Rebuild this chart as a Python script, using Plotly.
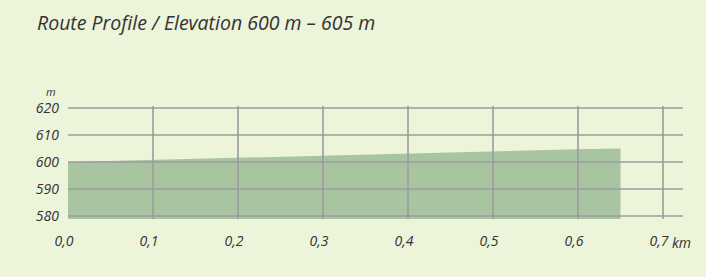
import plotly.graph_objects as go

distance_km = [0.0, 0.1, 0.2, 0.3, 0.4, 0.5, 0.6, 0.65]
elevation_m = [600.0, 600.8, 601.7, 602.4, 603.2, 603.9, 604.7, 605.0]

x_ticks = [0.0, 0.1, 0.2, 0.3, 0.4, 0.5, 0.6, 0.7]
x_tick_labels = ["0,0", "0,1", "0,2", "0,3", "0,4", "0,5", "0,6", "0,7"]
y_ticks = [580, 590, 600, 610, 620]
y_tick_labels = ["580", "590", "600", "610", "620"]

BG = "#ECF4DA"
FILL = "#A8C4A0"
GRID = "#9C9C9C"
TXT = "#333333"
FONT = "Open Sans"

fig = go.Figure()
fig.add_trace(go.Scatter(
    x=distance_km, y=elevation_m, mode="lines",
    line=dict(width=0, color=FILL), fill="tozeroy", fillcolor=FILL,
    hoverinfo="skip", showlegend=False,
))

shapes = []
for xv in x_ticks[1:]:
    shapes.append(dict(type="line", xref="x", yref="paper", x0=xv, x1=xv, y0=0, y1=1,
                       line=dict(color=GRID, width=1.6), layer="above"))
for yv in y_ticks:
    shapes.append(dict(type="line", xref="paper", yref="y", x0=0, x1=1, y0=yv, y1=yv,
                       line=dict(color=GRID, width=1.6), layer="above"))

fig.update_layout(
    width=706, height=277,
    margin=dict(l=68, r=23, t=106, b=58),
    paper_bgcolor=BG, plot_bgcolor=BG,
    font=dict(family=FONT, color=TXT),
    shapes=shapes,
    title=dict(text="Route Profile / Elevation 600 m – 605 m", x=37/706, xanchor="left",
               y=1 - 23/277, yanchor="middle", xref="container", yref="container",
               font=dict(size=19.5, family=FONT, color=TXT, style="italic")),
    xaxis=dict(range=[0, 0.7235], tickvals=x_ticks, ticktext=x_tick_labels,
               showgrid=False, zeroline=False, showline=False, ticks="",
               ticklabelstandoff=12, ticklabelshift=-4,
               tickfont=dict(size=14, family=FONT, color=TXT, style="italic")),
    yaxis=dict(range=[578.9, 620.74], tickvals=y_ticks, ticktext=y_tick_labels,
               showgrid=False, zeroline=False, showline=False, ticks="",
               ticklabelstandoff=8,
               tickfont=dict(size=14, family=FONT, color=TXT, style="italic")),
    annotations=[
        dict(text="km", xref="x", yref="paper", x=0.7, y=0, xanchor="left", yanchor="top",
             xshift=7, yshift=-12, showarrow=False,
             font=dict(size=14, family=FONT, color=TXT, style="italic")),
        dict(text="m", xref="paper", yref="y", x=0, y=620, xanchor="right", yanchor="bottom",
             xshift=-10, yshift=7, showarrow=False,
             font=dict(size=11, family=FONT, color=TXT, style="italic")),
    ],
)

fig.write_html("out.html", config={"displayModeBar": False},
               post_script="document.body.style.margin='0';document.body.style.background='#ECF4DA';")
